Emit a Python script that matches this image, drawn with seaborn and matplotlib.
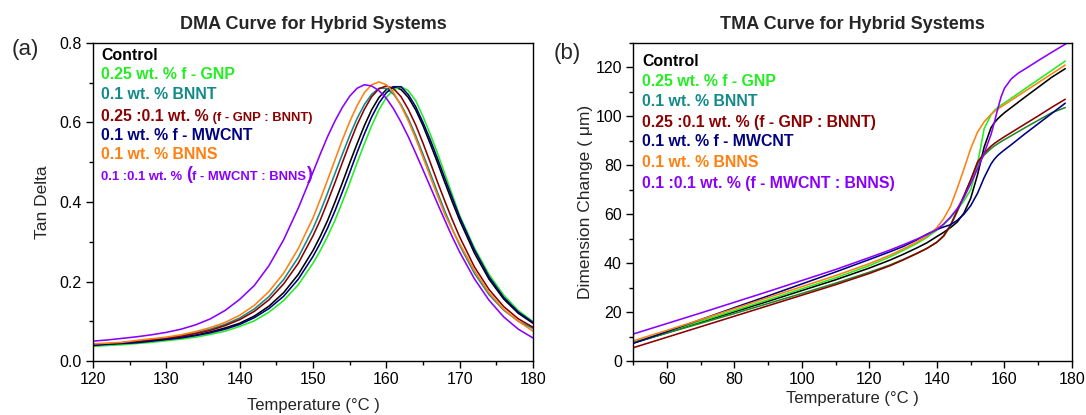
import matplotlib
matplotlib.use("Agg")
import matplotlib.pyplot as plt
import seaborn as sns
import pandas as pd
from matplotlib.ticker import MultipleLocator, FormatStrFormatter

# ---------------- data ----------------
series = ["Control", "0.25 wt. % f - GNP", "0.1 wt. % BNNT",
          "0.25 :0.1 wt. % (f - GNP : BNNT)", "0.1 wt. % f - MWCNT",
          "0.1 wt. % BNNS", "0.1 :0.1 wt. % (f - MWCNT : BNNS)"]
line_colors_dma = ["#000000", "#22ee22", "#138a8a", "#8b0000", "#000080", "#ff8010", "#8a00ff"]
line_colors_tma = ["#000000", "#22ee22", "#1f8a2a", "#8b0000", "#000080", "#ff8010", "#8a00ff"]
text_colors = ["#000000", "#22ee22", "#138a8a", "#8b0000", "#000080", "#ff8010", "#8a00ff"]

dma_temp = [120, 122, 124, 126, 128, 130, 132, 134, 136, 138, 140, 142, 144, 146, 148,
            150, 151, 152, 153, 154, 155, 156, 157, 158, 159, 160, 161, 162, 163, 164,
            165, 166, 167, 168, 169, 170, 172, 174, 176, 178, 180]
dma_control = [.040, .042, .044, .047, .051, .055, .060, .065, .073, .083, .095, .113, .138, .172, .218,
               .278, .314, .354, .400, .448, .498, .546, .592, .632, .663, .683, .690, .683, .663, .632,
               .592, .546, .498, .448, .400, .354, .272, .206, .156, .120, .095]
dma_gnp = [.037, .039, .041, .044, .047, .051, .055, .060, .067, .075, .087, .101, .123, .152, .192,
           .246, .278, .314, .354, .400, .448, .498, .546, .592, .632, .663, .683, .690, .680, .655,
           .615, .570, .522, .470, .418, .366, .285, .218, .166, .127, .099]
dma_bnnt = [.041, .043, .046, .050, .054, .058, .064, .071, .080, .092, .108, .131, .162, .205, .261,
            .333, .376, .423, .472, .520, .567, .610, .645, .671, .686, .686, .671, .645, .610, .567,
            .520, .472, .423, .376, .332, .291, .221, .167, .128, .100, .082]
dma_gnp_bnnt = [.041, .043, .046, .049, .053, .057, .062, .069, .077, .089, .104, .125, .154, .194, .246,
                .315, .355, .401, .449, .499, .548, .594, .633, .665, .685, .692, .685, .665, .633, .594,
                .548, .499, .449, .401, .355, .312, .237, .180, .137, .106, .085]
dma_mwcnt = [.039, .042, .044, .046, .050, .054, .058, .064, .071, .080, .092, .109, .132, .163, .206,
             .263, .297, .335, .378, .425, .474, .524, .571, .614, .649, .675, .690, .690, .670, .640,
             .600, .556, .508, .458, .410, .362, .280, .212, .160, .123, .097]
dma_bnns = [.043, .045, .047, .052, .056, .060, .066, .074, .084, .097, .115, .140, .175, .221, .283,
            .360, .407, .456, .506, .556, .602, .642, .675, .695, .702, .695, .675, .642, .604, .560,
            .512, .463, .415, .368, .330, .295, .228, .172, .130, .100, .075]
dma_mwcnt_bnns = [.050, .053, .057, .061, .066, .072, .080, .091, .106, .127, .155, .190, .240, .305, .385,
                  .475, .521, .565, .604, .638, .666, .686, .695, .692, .680, .661, .634, .601, .564, .523,
                  .481, .438, .395, .353, .312, .274, .207, .153, .111, .080, .058]

tma_temp = [50, 60, 70, 80, 90, 100, 110, 120, 126, 130, 134, 137, 140, 142, 144, 146, 148,
            150, 152, 154, 156, 157, 158, 159, 160, 162, 164, 166, 170, 174, 178, 180]
tma_control = [7.3, 11.5, 15.8, 20.1, 24.4, 28.8, 33.2, 38.0, 41.2, 43.6, 46.2, 48.3, 50.9, 52.6, 54.5, 56.8, 60.5,
               66.5, 76.0, 87.5, 95.3, 97.4, 99.0, 100.3, 101.5, 103.6, 105.7, 107.8, 111.9, 116.0, 119.5, None]
tma_gnp = [7.6, 11.9, 16.2, 20.6, 25.0, 29.5, 34.0, 39.0, 42.5, 45.2, 48.0, 50.5, 53.5, 55.8, 58.5, 61.8, 65.5,
           70.0, 80.5, 95.0, 100.6, 102.4, 103.6, 104.6, 105.5, 107.4, 109.3, 111.2, 115.0, 118.8, 122.6, None]
tma_bnnt = [7.4, 11.4, 15.4, 19.4, 23.5, 27.6, 31.8, 36.3, 39.2, 41.5, 44.0, 46.0, 48.5, 51.0, 55.2, 61.0, 67.5,
            74.0, 80.5, 84.2, 86.8, 87.9, 88.8, 89.7, 90.5, 92.1, 93.7, 95.3, 98.4, 101.5, 103.6, None]
tma_gnp_bnnt = [5.4, 9.7, 14.0, 18.3, 22.6, 26.9, 31.2, 35.8, 38.9, 41.3, 43.9, 46.0, 48.6, 51.2, 55.5, 61.5, 67.5,
                74.0, 81.3, 85.0, 87.8, 88.9, 89.9, 90.8, 91.7, 93.4, 95.1, 96.8, 100.2, 103.7, 107.0, None]
tma_mwcnt = [7.2, 12.0, 16.9, 21.8, 26.6, 31.5, 36.4, 41.5, 44.6, 46.8, 49.5, 51.8, 53.8, 54.8, 55.7, 57.5, 60.0,
             63.5, 68.5, 75.0, 80.5, 82.5, 84.0, 85.2, 86.3, 88.4, 90.6, 92.8, 97.0, 101.2, 105.4, None]
tma_bnns = [8.2, 12.5, 16.9, 21.4, 25.9, 30.4, 34.9, 39.8, 43.2, 45.8, 48.6, 51.0, 54.5, 58.2, 63.2, 70.5, 78.5,
            86.8, 93.5, 97.8, 100.8, 102.0, 103.0, 103.9, 104.8, 106.6, 108.4, 110.2, 113.8, 117.4, 121.0, None]
tma_mwcnt_bnns = [11.0, 15.3, 19.6, 24.0, 28.4, 32.9, 37.4, 42.3, 45.3, 47.5, 49.8, 51.6, 53.8, 56.0, 58.8, 62.3, 66.8,
                  72.5, 78.5, 85.0, 92.5, 97.5, 103.0, 108.0, 111.5, 115.3, 117.6, 119.3, 122.8, 126.2, 129.5, 131.0]

dma_values = [dma_control, dma_gnp, dma_bnnt, dma_gnp_bnnt, dma_mwcnt, dma_bnns, dma_mwcnt_bnns]
tma_values = [tma_control, tma_gnp, tma_bnnt, tma_gnp_bnnt, tma_mwcnt, tma_bnns, tma_mwcnt_bnns]


def long_frame(temps, value_lists):
    rows = []
    for name, vals in zip(series, value_lists):
        for t, v in zip(temps, vals):
            if v is not None:
                rows.append((name, t, v))
    return pd.DataFrame(rows, columns=["series", "T", "v"])


dma_df = long_frame(dma_temp, dma_values)
tma_df = long_frame(tma_temp, tma_values)

# ---------------- style ----------------
sns.set_theme(style="ticks")
plt.rcParams["font.family"] = ["Liberation Sans", "DejaVu Sans"]
plt.rcParams["axes.linewidth"] = 1.0

W, H = 1086, 415
fig = plt.figure(figsize=(W / 100, H / 100), dpi=100)
ax1 = fig.add_axes([93 / W, 54 / H, 440 / W, 318 / H])
ax2 = fig.add_axes([633 / W, 54 / H, 439 / W, 318 / H])

sns.lineplot(data=dma_df, x="T", y="v", hue="series", hue_order=series,
             palette=line_colors_dma, estimator=None, sort=False, legend=False,
             linewidth=1.15, ax=ax1)
sns.lineplot(data=tma_df, x="T", y="v", hue="series", hue_order=series,
             palette=line_colors_tma, estimator=None, sort=False, legend=False,
             linewidth=1.15, ax=ax2)

for ax in (ax1, ax2):
    for s in ax.spines.values():
        s.set_visible(True)
        s.set_color("black")
        s.set_linewidth(1.0)
    ax.tick_params(which="major", direction="out", length=5, width=1, labelsize=11.5,
                   colors="black", pad=3)
    ax.tick_params(which="minor", direction="out", length=3, width=1, colors="black")
    ax.tick_params(top=False, right=False)

ax1.set_xlim(120, 180)
ax1.set_ylim(0, 0.8)
ax1.xaxis.set_major_locator(MultipleLocator(10))
ax1.xaxis.set_minor_locator(MultipleLocator(5))
ax1.yaxis.set_major_locator(MultipleLocator(0.2))
ax1.yaxis.set_minor_locator(MultipleLocator(0.1))
ax1.yaxis.set_major_formatter(FormatStrFormatter("%.1f"))
ax1.set_xlabel("Temperature (°C )", fontsize=12, labelpad=8)
ax1.set_ylabel("Tan Delta", fontsize=12.5, labelpad=6.5)
ax1.set_title("DMA Curve for Hybrid Systems", fontsize=13, fontweight="bold", pad=10)

ax2.set_xlim(50, 180)
ax2.set_ylim(0, 130)
ax2.xaxis.set_major_locator(MultipleLocator(20))
ax2.xaxis.set_minor_locator(MultipleLocator(10))
ax2.yaxis.set_major_locator(MultipleLocator(20))
ax2.yaxis.set_minor_locator(MultipleLocator(10))
ax2.set_xlabel("Temperature (°C )", fontsize=12, labelpad=3)
ax2.set_ylabel("Dimension Change ( μm)", fontsize=12.5, labelpad=1.5)
ax2.set_title("TMA Curve for Hybrid Systems", fontsize=13, fontweight="bold", pad=10)

# ---------------- text legends ----------------
big, small, paren = 11.4, 9.4, 13


def chain(ax, prev, txt, color, size):
    return ax.annotate(txt, xy=(1, 0), xycoords=prev, xytext=(0, 0), textcoords="offset points",
                       ha="left", va="bottom", color=color, fontsize=size, fontweight="bold")


dma_rows = [0.962, 0.902, 0.839, 0.770, 0.708, 0.648, 0.580]
for i, (name, col, y) in enumerate(zip(series, text_colors, dma_rows)):
    if i == 3:
        t = ax1.text(0.018, y, "0.25 :0.1 wt. %", transform=ax1.transAxes, color=col,
                     fontsize=big, fontweight="bold", va="center", ha="left")
        chain(ax1, t, " (f - GNP : BNNT)", col, small)
    elif i == 6:
        t = ax1.text(0.018, y, "0.1 :0.1 wt. % ", transform=ax1.transAxes, color=col,
                     fontsize=small, fontweight="bold", va="center", ha="left")
        t = chain(ax1, t, "(", col, paren)
        t = chain(ax1, t, "f - MWCNT : BNNS", col, small)
        chain(ax1, t, ")", col, paren)
    else:
        ax1.text(0.018, y, name, transform=ax1.transAxes, color=col,
                 fontsize=big, fontweight="bold", va="center", ha="left")

tma_rows = [0.941, 0.878, 0.815, 0.749, 0.689, 0.623, 0.559]
for name, col, y in zip(series, text_colors, tma_rows):
    ax2.text(0.021, y, name, transform=ax2.transAxes, color=col,
             fontsize=big, fontweight="bold", va="center", ha="left")

fig.text(25 / W, 1 - 50 / H, "(a)", fontsize=16, ha="center", va="center")
fig.text(567 / W, 1 - 53 / H, "(b)", fontsize=16, ha="center", va="center")

fig.savefig("out.png", dpi=100)
